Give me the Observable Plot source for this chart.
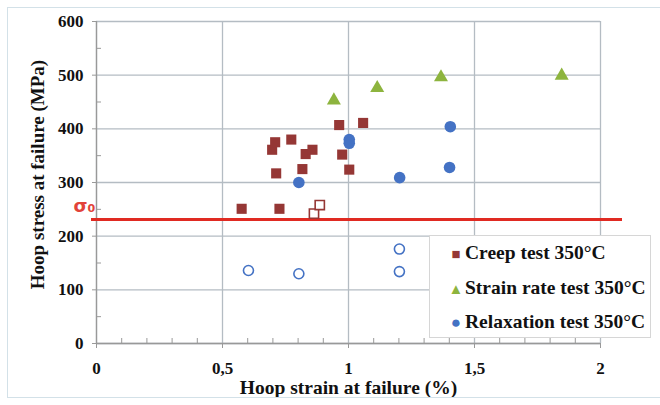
<!DOCTYPE html>
<html><head><meta charset="utf-8">
<script src="https://cdn.jsdelivr.net/npm/d3@7"></script>
<script src="https://cdn.jsdelivr.net/npm/@observablehq/plot@0.6"></script>
<style>
body{margin:0;background:#fff;}
#wrap{position:relative;width:660px;height:405px;overflow:hidden;background:#fff;}
#frame{position:absolute;left:7px;top:7px;width:660px;height:391px;border:1px solid #d3e1e8;border-right:none;box-sizing:border-box;pointer-events:none;}
#legend{position:absolute;left:429px;top:235px;width:222px;height:103px;background:#fff;border:1px solid #d6d6d6;box-sizing:border-box;font-family:"Liberation Serif",serif;font-weight:bold;font-size:19.5px;color:#111;}
#legend .row{position:absolute;left:18px;height:22px;line-height:22px;white-space:nowrap;}
#legend .sym{display:inline-block;width:16px;text-align:center;margin-right:1px;}
</style>
</head><body>
<div id="wrap"><div id="chart"></div><div id="frame"></div><div id="legend"></div></div>
<script>
// Data
const creepStrain = [0.576, 0.726, 0.697, 0.709, 0.713, 0.773, 0.817, 0.830, 0.857, 0.963, 0.975, 1.003, 1.058];
const creepStress = [251, 251, 361, 375, 317, 380, 325, 353, 361, 407, 352, 324, 411];
const creepOpenStrain = [0.863, 0.886];
const creepOpenStress = [242, 258];
const rateStrain = [0.942, 1.114, 1.367, 1.846];
const rateStress = [453, 476, 496, 499];
const relaxStrain = [0.803, 1.003, 1.003, 1.203, 1.401, 1.404];
const relaxStress = [300, 380, 373, 309, 328, 404];
const relaxOpenStrain = [0.603, 0.803, 1.202, 1.202];
const relaxOpenStress = [136, 130, 176, 134];
const sigma0 = [231];
const xTicks = [0, 0.5, 1, 1.5, 2];
const xMinor = [0.1,0.2,0.3,0.4,0.6,0.7,0.8,0.9,1.1,1.2,1.3,1.4,1.6,1.7,1.8,1.9];
const yTicks = [0, 100, 200, 300, 400, 500, 600];
const yMinor = [50, 150, 250, 350, 450, 550];
const seriesNames = ["Creep test 350°C", "Strain rate test 350°C", "Relaxation test 350°C"];
const seriesColors = ["#953735", "#8db43e", "#4472c4"];
const seriesSymbols = ["■", "▲", "●"];
const xTitle = "Hoop strain at failure (%)";
const yTitle = "Hoop stress at failure (MPa)";

const pts = (xs, ys) => xs.map((x, i) => ({x, y: ys[i]}));
const serif = "'Liberation Serif', 'Times New Roman', serif";
const gridColor = "#b4bcc3";

const chart = Plot.plot({
  width: 660, height: 405,
  marginLeft: 96, marginRight: 60, marginTop: 21, marginBottom: 62,
  style: {fontFamily: serif, background: "transparent", overflow: "visible"},
  x: {domain: [0, 2]},
  y: {domain: [0, 600]},
  marks: [
    Plot.gridY(yTicks, {stroke: gridColor, strokeOpacity: 1, strokeWidth: 1.3}),
    Plot.gridX(xTicks, {stroke: gridColor, strokeOpacity: 1, strokeWidth: 1.3}),
    Plot.axisY(yTicks, {tickSize: 4, tickPadding: 9, stroke: "#999", fontSize: 17, fontWeight: "bold", fill: "#111", label: null}),
    Plot.axisY(yMinor, {tickSize: 5, dx: 5, text: null, stroke: "#999", label: null}),
    Plot.axisX(xTicks, {tickSize: 5, tickPadding: 13, stroke: "#999", fontSize: 17, fontWeight: "bold", fill: "#111", label: null, tickFormat: d => String(d).replace(".", ",")}),
    Plot.axisX(xMinor, {tickSize: 5, dy: -5, text: null, stroke: "#999", label: null}),
    Plot.ruleX([0], {stroke: "#999", strokeWidth: 1.3}),
    Plot.ruleY([0], {stroke: "#999", strokeWidth: 1.3}),
    Plot.ruleY(sigma0, {stroke: "#e02a22", strokeWidth: 3, insetLeft: -5, insetRight: -22}),
    Plot.text(sigma0, {y: d => d, frameAnchor: "left", textAnchor: "middle", dx: -12, dy: -13, text: () => "σ₀", fill: "#e2433a", fontSize: 18, fontWeight: "bold", fontFamily: "'DejaVu Sans', sans-serif"}),
    Plot.dot(pts(creepStrain, creepStress), {x: "x", y: "y", symbol: "square", r: 5.7, fill: seriesColors[0]}),
    Plot.dot(pts(creepOpenStrain, creepOpenStress), {x: "x", y: "y", symbol: "square", r: 5.2, fill: "white", stroke: seriesColors[0], strokeWidth: 1.6}),
    Plot.dot(pts(rateStrain, rateStress), {x: "x", y: "y", symbol: "triangle", r: 5.2, fill: seriesColors[1]}),
    Plot.dot(pts(relaxStrain, relaxStress), {x: "x", y: "y", symbol: "circle", r: 5.8, fill: seriesColors[2]}),
    Plot.dot(pts(relaxOpenStrain, relaxOpenStress), {x: "x", y: "y", symbol: "circle", r: 5, fill: "white", stroke: seriesColors[2], strokeWidth: 1.6}),
    Plot.text([xTitle], {frameAnchor: "bottom", textAnchor: "middle", dy: 50, fontSize: 19.5, fontWeight: "bold", fill: "#111"}),
    Plot.text([yTitle], {frameAnchor: "left", textAnchor: "middle", lineAnchor: "middle", rotate: -90, dx: -59, dy: -8, fontSize: 19, fontWeight: "bold", fill: "#111"})
  ]
});
document.getElementById("chart").appendChild(chart);

const legend = document.getElementById("legend");
seriesNames.forEach((name, i) => {
  const row = document.createElement("div");
  row.className = "row";
  row.style.top = (6 + i * 34.5) + "px";
  const sym = document.createElement("span");
  sym.className = "sym";
  sym.style.color = seriesColors[i];
  sym.style.fontSize = i === 2 ? "17px" : "15px";
  sym.textContent = seriesSymbols[i];
  row.appendChild(sym);
  row.appendChild(document.createTextNode(name));
  legend.appendChild(row);
});
</script>
</body></html>
